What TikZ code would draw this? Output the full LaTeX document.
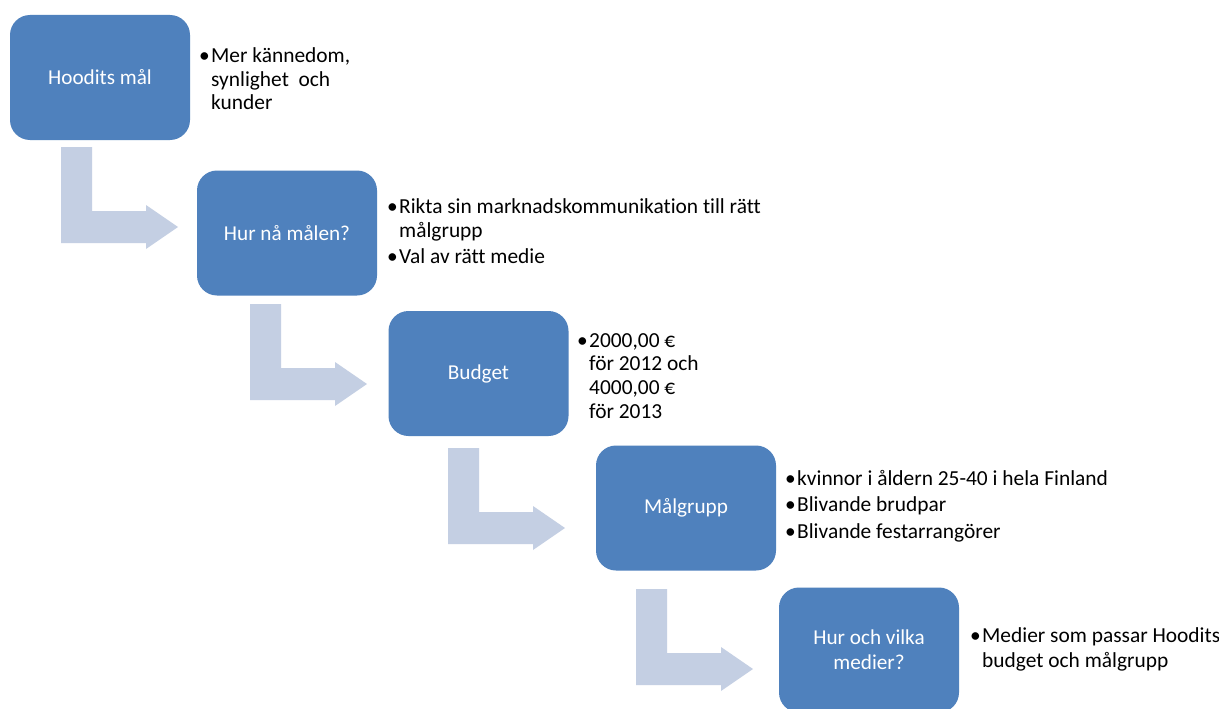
\documentclass[tikz,border=0pt]{standalone}
\usepackage{fontspec}
\setmainfont{Carlito}[Ligatures={NoCommon}]
\definecolor{boxblue}{RGB}{79,129,189}
\definecolor{arrowgrey}{RGB}{196,207,227}
\tikzset{
  stage/.style={fill=boxblue, rounded corners=20pt, minimum width=180pt, minimum height=125pt,
    text=white, align=center, inner sep=0pt, font=\fontsize{21.2}{25}\selectfont},
  bul/.style={anchor=base west, inner sep=0pt, text=black},
  bentarrow/.style={fill=arrowgrey}
}
\newcommand\bitem[1]{\makebox[12pt][l]{\textbullet}\begin{tabular}[t]{@{}l@{}}#1\end{tabular}}
\newcommand\bentshape[1]{%
  \fill[bentarrow, shift={(#1)}] (0,0) -- (31,0) -- (31,64) -- (85,64) -- (85,58) -- (117,80)
    -- (85,102) -- (85,96) -- (0,96) -- cycle;}
\begin{document}
\begin{tikzpicture}[x=1pt,y=-1pt]
\clip (0,0) rectangle (1219,709);
\fill[white] (0,0) rectangle (1219,709);

% stage boxes
\node[stage] (b1) at (100,77.5) {Hoodits mål};
\node[stage] (b2) at (287,233) {Hur nå målen?};
\node[stage] (b3) at (478.5,373.5) {Budget};
\node[stage] (b4) at (686,508) {Målgrupp};
\node[stage] (b5) at (869,650) {Hur och vilka\\medier?};

% bent arrows
\coordinate (a1) at (61,147);
\coordinate (a2) at (250,304);
\coordinate (a3) at (448,448);
\coordinate (a4) at (636,589);
\bentshape{a1}
\bentshape{a2}
\bentshape{a3}
\bentshape{a4}

% bullet texts
\node[bul, font=\fontsize{21.4}{23.5}\selectfont] (t1) at (199,63)
  {\bitem{Mer kännedom,\\synlighet~ och\\kunder}};
\node[bul, font=\fontsize{21.4}{24}\selectfont] (t2a) at (387,213)
  {\bitem{Rikta sin marknadskommunikation till rätt\\målgrupp}};
\node[bul, font=\fontsize{21.4}{24}\selectfont] (t2b) at (387,263)
  {\bitem{Val av rätt medie}};
\node[bul, font=\fontsize{21.4}{23.7}\selectfont] (t3) at (577,347)
  {\bitem{2000,00 €\\för 2012 och\\4000,00 €\\för 2013}};
\node[bul, font=\fontsize{21.4}{24}\selectfont] (t4a) at (785,485)
  {\bitem{kvinnor i åldern 25-40 i hela Finland}};
\node[bul, font=\fontsize{21.4}{24}\selectfont] (t4b) at (785,511.5)
  {\bitem{Blivande brudpar}};
\node[bul, font=\fontsize{21.4}{24}\selectfont] (t4c) at (785,538)
  {\bitem{Blivande festarrangörer}};
\node[bul, font=\fontsize{21.4}{25}\selectfont] (t5) at (970,642)
  {\bitem{Medier som passar Hoodits\\budget och målgrupp}};
\end{tikzpicture}
\end{document}
